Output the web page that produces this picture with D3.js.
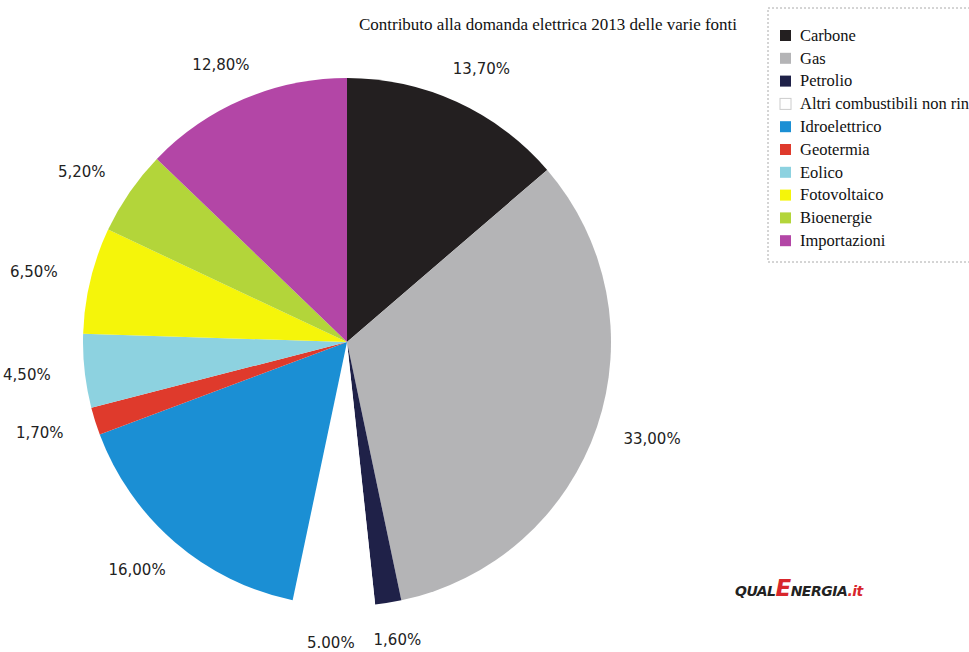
<!DOCTYPE html>
<html>
<head>
<meta charset="utf-8">
<script src="https://cdn.jsdelivr.net/npm/d3@7"></script>
<style>
  body { margin: 0; background: #fff; }
  svg { display: block; }
</style>
</head>
<body>
<svg width="969" height="652"></svg>
<script>
var fonti = ["Carbone", "Gas", "Petrolio", "Altri combustibili non rinnovabili", "Idroelettrico",
             "Geotermia", "Eolico", "Fotovoltaico", "Bioenergie", "Importazioni"];
var valori = [13.7, 33.0, 1.6, 5.0, 16.0, 1.7, 4.5, 6.5, 5.2, 12.8];
var etichette = ["13,70%", "33,00%", "1,60%", "5.00%", "16,00%", "1,70%", "4,50%", "6,50%", "5,20%", "12,80%"];
var colori = ["#231f20", "#b4b4b6", "#1f2148", "#ffffff", "#1b8fd4",
              "#df3a2c", "#8dd2e0", "#f5f50a", "#b3d53a", "#b346a6"];

var svg = d3.select("svg"),
  width = +svg.attr("width"),
  height = +svg.attr("height");

var cx = 347, cy = 342, radius = 264;

var color = d3.scaleOrdinal().domain(fonti).range(colori);

var data = fonti.map(function(d, i) {
  return {name: d, value: valori[i], label: etichette[i]};
});

var pie = d3.pie()
    .sort(null)
    .value(function(d) { return d.value; });

var arc = d3.arc().innerRadius(0).outerRadius(radius);

// labels sit a bit further out sideways than above/below
function labelPos(d) {
  var a = (d.startAngle + d.endAngle) / 2;
  return [Math.sin(a) * radius * 1.22, -Math.cos(a) * radius * 1.14];
}

var g = svg.append("g").attr("transform", "translate(" + cx + "," + cy + ")");

var arcs = pie(data);

g.selectAll("path")
    .data(arcs)
    .enter().append("path")
      .attr("d", arc)
      .attr("fill", function(d) { return color(d.data.name); });

g.selectAll("text")
    .data(arcs)
    .enter().append("text")
      .attr("transform", function(d) { return "translate(" + labelPos(d) + ")"; })
      .attr("text-anchor", "middle")
      .attr("dy", "0.35em")
      .attr("font-family", "DejaVu Sans, sans-serif")
      .attr("font-size", 15)
      .attr("fill", "#222")
      .text(function(d) { return d.data.label; });

// title
svg.append("text")
    .attr("x", 548)
    .attr("y", 30)
    .attr("text-anchor", "middle")
    .attr("font-family", "'Liberation Serif', serif")
    .attr("font-size", 17)
    .attr("fill", "#111")
    .text("Contributo alla domanda elettrica 2013 delle varie fonti");

// legend
var legend = svg.append("g").attr("transform", "translate(768,8)");

legend.append("rect")
    .attr("x", 0).attr("y", 0)
    .attr("width", 220).attr("height", 254)
    .attr("fill", "none")
    .attr("stroke", "#aaa")
    .attr("stroke-dasharray", "2,2");

var item = legend.selectAll(".item")
    .data(fonti)
    .enter().append("g")
      .attr("class", "item")
      .attr("transform", function(d, i) { return "translate(12," + (27 + i * 22.8) + ")"; });

item.append("rect")
    .attr("x", 0).attr("y", -5)
    .attr("width", 11).attr("height", 11)
    .attr("fill", function(d) { return color(d); })
    .attr("stroke", function(d) { return d === fonti[3] ? "#ccc" : "none"; });

item.append("text")
    .attr("x", 20)
    .attr("y", 0)
    .attr("dy", "0.35em")
    .attr("font-family", "'Liberation Serif', serif")
    .attr("font-size", 16.5)
    .attr("fill", "#111")
    .text(function(d) { return d; });

// logo
var logo = svg.append("text")
    .attr("x", 735)
    .attr("y", 596)
    .attr("font-family", "DejaVu Sans, sans-serif")
    .attr("font-weight", "bold")
    .attr("font-style", "italic")
    .attr("letter-spacing", -0.5);
logo.append("tspan").attr("font-size", 14).attr("fill", "#222").text("QUAL");
logo.append("tspan").attr("font-size", 23).attr("fill", "#d8262c").text("E");
logo.append("tspan").attr("font-size", 14).attr("fill", "#222").text("NERGIA");
logo.append("tspan").attr("font-size", 14).attr("fill", "#d8262c").text(".it");
</script>
</body>
</html>
